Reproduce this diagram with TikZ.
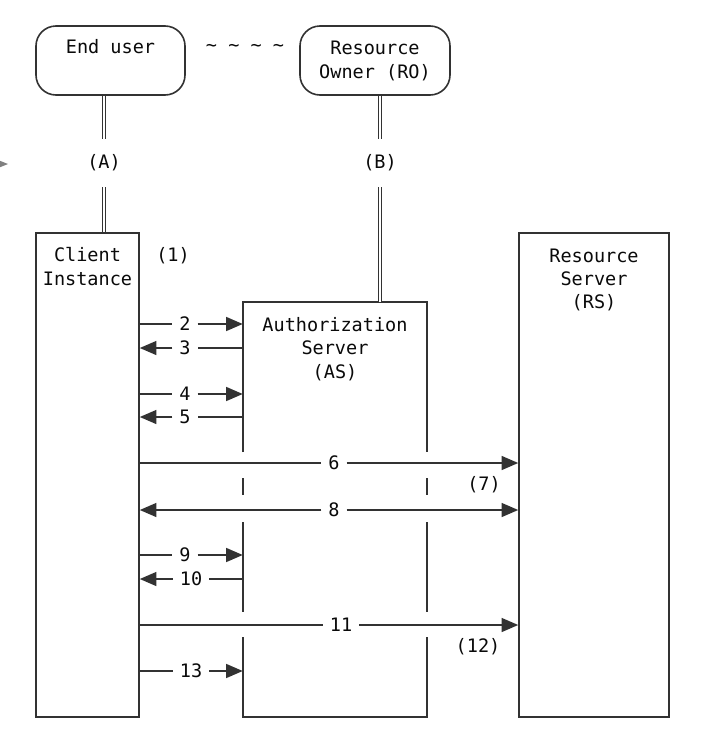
\documentclass[tikz,border=0pt]{standalone}
\usepackage{fontspec}
\setmonofont{DejaVu Sans Mono}
\usetikzlibrary{arrows.meta}
\definecolor{lc}{RGB}{50,50,50}
\definecolor{tc}{RGB}{10,10,10}
\begin{document}
\begin{tikzpicture}[x=0.75pt,y=-0.75pt,
  ln/.style={draw=lc, line width=1.2pt},
  box/.style={ln, inner sep=0pt},
  txt/.style={font=\ttfamily\fontsize{13.9}{17.5}\selectfont, text=tc, align=center, inner sep=0pt},
  lbl/.style={txt, inner xsep=5pt},
  arr/.style={ln, -{Triangle[length=12.5pt,width=10.5pt]}},
  dbl/.style={draw=lc, line width=1pt, double=white, double distance=1.6pt}]
\useasboundingbox (0,0) rectangle (716,750);
\fill[white] (0,0) rectangle (716,750);
% stray arrowhead at left edge
\fill[gray] (-2,160) -- (8,164) -- (-2,168) -- cycle;
% boxes
\node[box, rounded corners=15pt, minimum width=111.75pt, minimum height=51.75pt] (eu) at (110.5,60.5) {};
\node[box, rounded corners=15pt, minimum width=112.5pt, minimum height=51.75pt] (ro) at (375,60.5) {};
\node[box, minimum width=77.25pt, minimum height=363pt] (cli) at (87.5,475) {};
\node[inner sep=0pt, minimum width=138pt, minimum height=311.25pt] (as) at (335,509.5) {};
\node[box, minimum width=112.5pt, minimum height=363pt] (rs) at (594,475) {};
% box texts
\node[txt] (euT) at (110.5,47) {End user};
\node[txt] (roT) at (375,61) {Resource\\Owner (RO)};
\node[txt] (cliT) at (87.5,266.5) {Client\\Instance};
\node[txt] (asT) at (335,349) {Authorization\\Server\\(AS)};
\node[txt] (rsT) at (594,280) {Resource\\Server\\(RS)};
\node[txt] (tl) at (245,48) {\textasciitilde{} \textasciitilde{} \textasciitilde{} \textasciitilde};
% AS outline with gaps
\draw[ln] (as.west |- 0,452) -- (as.north west) -- (as.north east) -- (as.east |- 0,452);
\draw[ln] (as.west |- 0,637) -- (as.south west) -- (as.south east) -- (as.east |- 0,637);
\foreach \a/\b in {478/495,522/612} {
  \draw[ln] (as.west |- 0,\a) -- (as.west |- 0,\b);
  \draw[ln] (as.east |- 0,\a) -- (as.east |- 0,\b);
}
% double links
\node[txt, minimum height=36pt] (A) at (104,163) {(A)};
\node[txt, minimum height=36pt] (B) at (380,163) {(B)};
\draw[dbl] (A |- eu.south) -- (A.north);
\draw[dbl] (A.south) -- (A |- cli.north);
\draw[dbl] (B |- ro.south) -- (B.north);
\draw[dbl] (B.south) -- (B |- as.north);
% side labels
\node[txt] (n1) at (173,256) {(1)};
\node[txt] (n7) at (484,485) {(7)};
\node[txt] (n12) at (478,647) {(12)};
% short arrows to AS
\node[lbl] (l2) at (185,324) {2};
\draw[ln] (cli.east |- l2) -- (l2.west);
\draw[arr] (l2.east) -- (l2 -| as.west);
\node[lbl] (l3) at (185,348) {3};
\draw[ln] (as.west |- l3) -- (l3.east);
\draw[arr] (l3.west) -- (l3 -| cli.east);
\node[lbl] (l4) at (185,394) {4};
\draw[ln] (cli.east |- l4) -- (l4.west);
\draw[arr] (l4.east) -- (l4 -| as.west);
\node[lbl] (l5) at (185,417) {5};
\draw[ln] (as.west |- l5) -- (l5.east);
\draw[arr] (l5.west) -- (l5 -| cli.east);
\node[lbl] (l9) at (185,555) {9};
\draw[ln] (cli.east |- l9) -- (l9.west);
\draw[arr] (l9.east) -- (l9 -| as.west);
\node[lbl] (l10) at (191,579) {10};
\draw[ln] (as.west |- l10) -- (l10.east);
\draw[arr] (l10.west) -- (l10 -| cli.east);
\node[lbl] (l13) at (191,671) {13};
\draw[ln] (cli.east |- l13) -- (l13.west);
\draw[arr] (l13.east) -- (l13 -| as.west);
% long arrows to RS
\node[lbl] (l6) at (334,463) {6};
\draw[ln] (cli.east |- l6) -- (l6.west);
\draw[arr] (l6.east) -- (l6 -| rs.west);
\node[lbl] (l8) at (334,510) {8};
\draw[arr] (l8.west) -- (l8 -| cli.east);
\draw[arr] (l8.east) -- (l8 -| rs.west);
\node[lbl] (l11) at (341,625) {11};
\draw[ln] (cli.east |- l11) -- (l11.west);
\draw[arr] (l11.east) -- (l11 -| rs.west);
\end{tikzpicture}
\end{document}
